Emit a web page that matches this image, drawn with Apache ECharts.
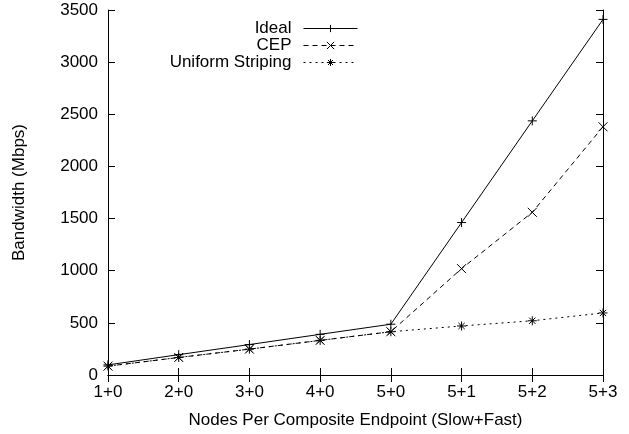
<!DOCTYPE html>
<html>
<head>
<meta charset="utf-8">
<script src="https://cdn.jsdelivr.net/npm/echarts@6/dist/echarts.min.js"></script>
<style>
  html, body { margin: 0; padding: 0; background: #fff; }
  #chart { width: 629px; height: 434px; }
</style>
</head>
<body>
<div id="chart"></div>
<script>
var categories = ['1+0', '2+0', '3+0', '4+0', '5+0', '5+1', '5+2', '5+3'];
var ideal = [97, 195, 292, 390, 487, 1462, 2437, 3410];
var cep = [85, 168, 248, 332, 415, 1020, 1560, 2380];
var uniform = [85, 168, 248, 332, 415, 470, 520, 595];

var font = 'Liberation Sans, Arial, sans-serif';
var plusPath = 'path://M5 0L5 10M0 5L10 5';
var crossPath = 'path://M0 0L10 10M10 0L0 10';
var starPath = 'path://M5 0L5 10M0 5L10 5M1.5 1.5L8.5 8.5M8.5 1.5L1.5 8.5';

var chart = echarts.init(document.getElementById('chart'));

function lineSeries(name, data, symbol, dash) {
  return {
    name: name,
    type: 'line',
    data: data,
    symbol: symbol,
    symbolSize: 9,
    showAllSymbol: true,
    animation: false,
    lineStyle: { color: '#000', width: 1, type: dash },
    itemStyle: { color: '#000', borderColor: '#000', borderWidth: 1 },
    emphasis: { disabled: true }
  };
}

chart.setOption({
  backgroundColor: '#fff',
  animation: false,
  grid: { left: 108, right: 26, top: 10, bottom: 59 },
  legend: {
    orient: 'vertical',
    right: 266,
    top: 15,
    align: 'right',
    itemWidth: 54,
    itemHeight: 9,
    itemGap: 0,
    lineStyle: { width: 1 },
    itemStyle: { borderWidth: 1 },
    textStyle: { fontFamily: font, fontSize: 17, lineHeight: 17, color: '#000', padding: [0, 7, 0, 0] },
    data: ['Ideal', 'CEP', 'Uniform Striping']
  },
  xAxis: [{
    type: 'category',
    data: categories,
    boundaryGap: false,
    name: 'Nodes Per Composite Endpoint (Slow+Fast)',
    nameLocation: 'middle',
    nameGap: 37,
    nameTextStyle: { fontFamily: font, fontSize: 17, color: '#000' },
    axisLine: { lineStyle: { color: '#000', width: 1 } },
    axisTick: { inside: true, length: 7, lineStyle: { color: '#000' } },
    axisLabel: { fontFamily: font, fontSize: 17, color: '#000', margin: 9 },
    splitLine: { show: false }
  }, {
    type: 'category',
    data: categories,
    boundaryGap: false,
    position: 'top',
    axisLine: { lineStyle: { color: '#000', width: 1 } },
    axisTick: { inside: true, length: 7, lineStyle: { color: '#000' } },
    axisLabel: { show: false },
    splitLine: { show: false }
  }],
  yAxis: [{
    type: 'value',
    min: 0,
    max: 3500,
    interval: 500,
    name: 'Bandwidth (Mbps)',
    nameLocation: 'middle',
    nameGap: 80,
    nameTextStyle: { fontFamily: font, fontSize: 17, color: '#000' },
    axisLine: { show: true, lineStyle: { color: '#000', width: 1 } },
    axisTick: { show: true, inside: true, length: 7, lineStyle: { color: '#000' } },
    axisLabel: { fontFamily: font, fontSize: 17, color: '#000', margin: 10,
      formatter: function (v) { return String(v); } },
    splitLine: { show: false }
  }, {
    type: 'value',
    min: 0,
    max: 3500,
    interval: 500,
    position: 'right',
    axisLine: { show: true, lineStyle: { color: '#000', width: 1 } },
    axisTick: { show: true, inside: true, length: 7, lineStyle: { color: '#000' } },
    axisLabel: { show: false },
    splitLine: { show: false }
  }],
  series: [
    lineSeries('Ideal', ideal, plusPath, 'solid'),
    lineSeries('CEP', cep, crossPath, [5, 4]),
    lineSeries('Uniform Striping', uniform, starPath, [2, 4])
  ]
});
</script>
</body>
</html>
